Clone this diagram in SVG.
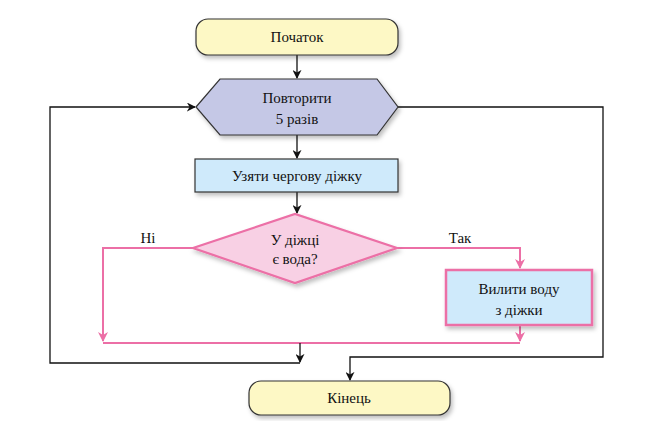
<svg xmlns="http://www.w3.org/2000/svg" width="668" height="421" viewBox="0 0 668 421">
<style>
text{font-family:"Liberation Serif","DejaVu Serif",serif;font-size:15px;fill:#111;text-anchor:middle}
.blk{fill:none;stroke:#111;stroke-width:1.3}
.pnk{fill:none;stroke:#ec6fa6;stroke-width:2}
</style>
<defs>
<marker id="ab" viewBox="0 0 10 10" refX="9" refY="5" markerWidth="9" markerHeight="9" orient="auto" markerUnits="userSpaceOnUse"><path d="M0,0L10,5L0,10L3,5z" fill="#111"/></marker>
<marker id="ap" viewBox="0 0 10 10" refX="9" refY="5" markerWidth="10" markerHeight="10" orient="auto" markerUnits="userSpaceOnUse"><path d="M0,0L10,5L0,10L3,5z" fill="#ec6fa6"/></marker>
<filter id="sh" x="-10%" y="-10%" width="130%" height="140%"><feDropShadow dx="2" dy="3" stdDeviation="2" flood-color="#000" flood-opacity="0.25"/></filter>
</defs>
<g id="connectors">
<path class="blk" d="M297,55V78" marker-end="url(#ab)"/>
<path class="blk" d="M297,135V158" marker-end="url(#ab)"/>
<path class="blk" d="M297,192V213" marker-end="url(#ab)"/>
<path class="pnk" d="M193,248H103V341" marker-end="url(#ap)"/>
<path class="pnk" d="M397,248H520V268" marker-end="url(#ap)"/>
<path class="pnk" d="M520,325V341" marker-end="url(#ap)"/>
<path class="pnk" d="M103,343H520"/>
<path class="blk" d="M300,343V362" marker-end="url(#ab)"/>
<path class="blk" d="M300,363H50V107H195" marker-end="url(#ab)"/>
<path class="blk" d="M398,107H603V357H350V380" marker-end="url(#ab)"/>
<text x="148" y="243">Ні</text>
<text x="460" y="243">Так</text>
</g>
<g id="start"><rect x="196" y="19" width="202" height="36" rx="12" fill="#fdf8c5" stroke="#333" stroke-width="1.2" filter="url(#sh)"/><text x="297" y="42">Початок</text></g>
<g id="loop"><polygon points="196,107 220,79 377,79 398,107 377,135 220,135" fill="#c5c8e6" stroke="#333" stroke-width="1.2" filter="url(#sh)"/><text x="297" y="103">Повторити</text><text x="297" y="124">5 разів</text></g>
<g id="take"><rect x="195" y="159" width="203" height="33" fill="#cfeafb" stroke="#333" stroke-width="1.2" filter="url(#sh)"/><text x="297" y="181">Узяти чергову діжку</text></g>
<g id="cond"><polygon points="193,248 295,214 397,248 295,283" fill="#f8d0e4" stroke="#ec6fa6" stroke-width="2.2" filter="url(#sh)"/><text x="295" y="245">У діжці</text><text x="295" y="264">є вода?</text></g>
<g id="pour"><rect x="446" y="270" width="146" height="55" fill="#cfeafb" stroke="#ec6fa6" stroke-width="2.5" filter="url(#sh)"/><text x="519" y="294">Вилити воду</text><text x="519" y="315">з діжки</text></g>
<g id="end"><rect x="249" y="381" width="201" height="34" rx="12" fill="#fdf8c5" stroke="#333" stroke-width="1.2" filter="url(#sh)"/><text x="349" y="403">Кінець</text></g>
</svg>
